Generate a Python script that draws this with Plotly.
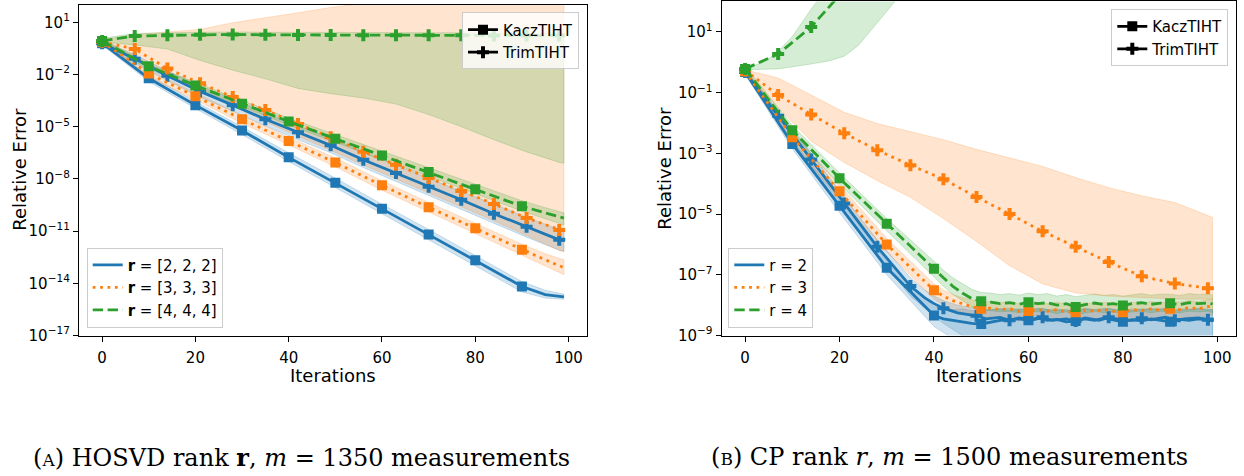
import numpy as np
import plotly.graph_objects as go

W, H = 1244, 476

# ---------------- data (log10 of relative error) ----------------
# Panel A: HOSVD rank r, m = 1350 measurements
hosvd_kacz_iter = [0, 10, 20, 30, 40, 50, 60, 70, 80, 90, 95, 99]
hosvd_kacz = {
    "r2": [-0.2, -2.22, -3.76, -5.22, -6.76, -8.22, -9.72, -11.2, -12.68, -14.18, -14.65, -14.78],
    "r3": [-0.12, -1.94, -3.25, -4.57, -5.82, -7.06, -8.37, -9.63, -10.84, -12.07, -12.65, -13.1],
    "r4": [-0.07, -1.53, -2.63, -3.68, -4.7, -5.69, -6.65, -7.6, -8.6, -9.57, -9.95, -10.25],
}
hosvd_kacz_hi = {
    "r2": [-0.05, -2.05, -3.55, -5.0, -6.5, -7.95, -9.45, -10.9, -12.4, -13.9, -14.4, -14.62],
    "r3": [0.0, -1.75, -3.05, -4.35, -5.6, -6.8, -8.1, -9.35, -10.55, -11.75, -12.3, -12.65],
    "r4": [0.05, -1.4, -2.45, -3.5, -4.5, -5.45, -6.4, -7.35, -8.3, -9.25, -9.65, -9.95],
}
hosvd_kacz_lo = {
    "r2": [-0.3, -2.4, -3.95, -5.45, -7.0, -8.5, -10.0, -11.5, -13.0, -14.5, -14.85, -14.92],
    "r3": [-0.25, -2.15, -3.45, -4.8, -6.05, -7.3, -8.65, -9.9, -11.15, -12.4, -13.0, -13.5],
    "r4": [-0.2, -1.7, -2.8, -3.85, -4.9, -5.9, -6.9, -7.85, -8.85, -9.85, -10.3, -10.65],
}
hosvd_trim_iter = [0, 7, 14, 21, 28, 35, 42, 49, 56, 63, 70, 77, 84, 91, 98, 99]
hosvd_trim = {
    "r2": [-0.2, -1.1, -2.07, -2.97, -3.76, -4.57, -5.32, -6.07, -6.9, -7.66, -8.45, -9.2, -10.0, -10.75, -11.5, -11.55],
    "r3": [-0.12, -0.54, -1.66, -2.5, -3.29, -4.04, -4.85, -5.6, -6.44, -7.19, -7.94, -8.69, -9.44, -10.25, -10.94, -11.0],
    "r4": [-0.07, 0.21, 0.25, 0.29, 0.3, 0.28, 0.27, 0.27, 0.26, 0.26, 0.25, 0.25, 0.24, 0.24, 0.24, 0.24],
}
hosvd_trim_hi = {
    "r2": [-0.05, -0.85, -1.8, -2.65, -3.4, -4.2, -4.95, -5.65, -6.45, -7.2, -7.95, -8.7, -9.45, -10.2, -10.9, -10.95],
    "r3": [0.0, 0.3, 0.45, 0.59, 0.98, 1.25, 1.55, 1.85, 2.1, 2.6, 2.6, 2.6, 2.6, 2.6, 2.6, 2.6],
    "r4": [0.08, 0.36, 0.4, 0.44, 0.45, 0.43, 0.42, 0.42, 0.41, 0.41, 0.4, 0.4, 0.39, 0.39, 0.39, 0.39],
}
hosvd_trim_lo = {
    "r2": [-0.3, -1.35, -2.35, -3.3, -4.1, -4.95, -5.75, -6.5, -7.35, -8.15, -8.95, -9.75, -10.55, -11.35, -12.1, -12.15],
    "r3": [-0.3, -1.0, -2.0, -2.9, -3.8, -4.7, -5.55, -6.35, -7.2, -8.0, -8.8, -9.6, -10.4, -11.25, -12.1, -12.2],
    "r4": [-0.15, -0.3, -0.54, -1.19, -1.75, -2.25, -2.8, -3.1, -3.35, -3.7, -4.3, -5.0, -5.75, -6.45, -7.05, -7.1],
}

# Panel B: CP rank r, m = 1500 measurements
cp_kacz_iter = [0, 10, 20, 30, 40, 42, 44, 46, 48, 50, 52, 54, 56, 58, 60, 62, 64, 66, 68, 70,
                72, 74, 76, 78, 80, 82, 84, 86, 88, 90, 92, 94, 96, 98, 99]
cp_kacz = {
    "r2": [-0.32, -2.69, -4.73, -6.77, -8.34, -8.45, -8.5, -8.55, -8.6, -8.62, -8.55, -8.5, -8.48, -8.45, -8.5,
           -8.42, -8.5, -8.47, -8.55, -8.52, -8.45, -8.5, -8.43, -8.5, -8.55, -8.48, -8.52, -8.45, -8.5, -8.55,
           -8.47, -8.5, -8.45, -8.5, -8.52],
    "r3": [-0.3, -2.47, -4.25, -6.0, -7.51, -7.7, -7.85, -7.95, -8.05, -8.12, -8.1, -8.15, -8.12, -8.2, -8.19,
           -8.15, -8.2, -8.15, -8.22, -8.23, -8.17, -8.2, -8.14, -8.2, -8.23, -8.15, -8.18, -8.12, -8.17, -8.12,
           -8.15, -8.08, -8.12, -8.05, -8.03],
    "r4": [-0.22, -2.24, -3.82, -5.32, -6.8, -7.1, -7.38, -7.6, -7.78, -7.87, -7.9, -7.95, -7.92, -7.97, -7.9,
           -7.95, -7.92, -8.0, -7.95, -8.06, -7.98, -7.93, -7.98, -7.95, -8.01, -7.95, -7.92, -7.97, -7.93, -7.94,
           -7.98, -7.92, -7.95, -7.93, -7.96],
}
cp_kacz_hi = {
    "r2": [-0.25, -2.55, -4.55, -6.55, -8.05, -8.12, -8.15, -8.12, -8.18, -8.2, -8.15, -8.12, -8.1, -8.15, -8.12,
           -8.1, -8.15, -8.12, -8.18, -8.15, -8.1, -8.14, -8.1, -8.15, -8.18, -8.12, -8.15, -8.1, -8.14, -8.18,
           -8.12, -8.15, -8.1, -8.14, -8.15],
    "r3": [-0.2, -2.3, -4.05, -5.8, -7.3, -7.5, -7.65, -7.75, -7.82, -7.9, -7.88, -7.92, -7.9, -7.95, -7.94,
           -7.9, -7.95, -7.9, -7.97, -7.98, -7.92, -7.95, -7.9, -7.95, -7.98, -7.9, -7.93, -7.88, -7.92, -7.88,
           -7.9, -7.85, -7.88, -7.82, -7.8],
    "r4": [-0.12, -2.08, -3.65, -5.15, -6.55, -6.85, -7.1, -7.3, -7.48, -7.58, -7.6, -7.65, -7.62, -7.67, -7.6,
           -7.65, -7.62, -7.7, -7.65, -7.72, -7.68, -7.63, -7.68, -7.65, -7.7, -7.65, -7.62, -7.67, -7.63, -7.64,
           -7.68, -7.62, -7.65, -7.63, -7.66],
}
cp_kacz_lo = {
    "r2": [-0.4, -2.85, -4.95, -7.0, -8.7, -8.9, -9.1, -9.25, -9.3, -9.3, -9.3, -9.3, -9.3, -9.3, -9.3,
           -9.3, -9.3, -9.3, -9.3, -9.3, -9.3, -9.3, -9.3, -9.3, -9.3, -9.3, -9.3, -9.3, -9.3, -9.3,
           -9.3, -9.3, -9.3, -9.3, -9.3],
    "r3": [-0.4, -2.7, -4.5, -6.25, -7.8, -8.0, -8.15, -8.25, -8.35, -8.42, -8.4, -8.45, -8.42, -8.5, -8.48,
           -8.45, -8.5, -8.45, -8.52, -8.52, -8.47, -8.5, -8.45, -8.5, -8.52, -8.45, -8.48, -8.42, -8.47, -8.42,
           -8.45, -8.38, -8.42, -8.35, -8.33],
    "r4": [-0.32, -2.42, -4.02, -5.55, -7.08, -7.38, -7.65, -7.85, -8.05, -8.15, -8.18, -8.22, -8.2, -8.25, -8.18,
           -8.22, -8.2, -8.28, -8.22, -8.32, -8.25, -8.2, -8.25, -8.22, -8.28, -8.22, -8.2, -8.25, -8.2, -8.22,
           -8.25, -8.2, -8.22, -8.2, -8.24],
}
cp_trim_iter_r2 = [0, 7, 14, 21, 28, 35, 38, 40, 42, 45, 47, 49, 51, 54, 56, 58, 61, 63, 65, 68, 70,
                   72, 75, 77, 79, 82, 84, 86, 89, 91, 93, 96, 98, 99]
cp_trim_r2 = [-0.32, -1.76, -3.2, -4.65, -6.08, -7.37, -7.75, -7.95, -8.1, -8.25, -8.3, -8.35, -8.45, -8.4,
              -8.5, -8.42, -8.48, -8.4, -8.5, -8.45, -8.52, -8.42, -8.5, -8.4, -8.47, -8.5, -8.43, -8.48, -8.4,
              -8.5, -8.45, -8.42, -8.48, -8.45]
cp_trim_r2_hi = [-0.25, -1.6, -3.0, -4.45, -5.85, -7.1, -7.5, -7.7, -7.85, -8.0, -8.05, -8.1, -8.15, -8.12,
                 -8.18, -8.12, -8.15, -8.1, -8.18, -8.14, -8.2, -8.12, -8.17, -8.1, -8.15, -8.18, -8.12, -8.15,
                 -8.1, -8.18, -8.14, -8.12, -8.16, -8.14]
cp_trim_r2_lo = [-0.4, -1.95, -3.45, -4.9, -6.35, -7.7, -8.1, -8.35, -8.6, -8.9, -9.1, -9.2, -9.3, -9.3,
                 -9.3, -9.3, -9.3, -9.3, -9.3, -9.3, -9.3, -9.3, -9.3, -9.3, -9.3, -9.3, -9.3, -9.3,
                 -9.3, -9.3, -9.3, -9.3, -9.3, -9.3]
cp_trim_iter_r3 = [0, 7, 14, 21, 28, 35, 42, 49, 56, 63, 70, 77, 84, 91, 98, 99]
cp_trim_r3 = [-0.27, -1.08, -1.72, -2.34, -2.9, -3.39, -3.85, -4.44, -5.0, -5.57, -6.08, -6.58, -7.05, -7.29, -7.44, -7.45]
cp_trim_r3_hi = [-0.25, -0.52, -1.08, -1.65, -2.02, -2.28, -2.55, -2.87, -3.14, -3.43, -3.8, -4.13, -4.4, -4.62, -5.05, -5.11]
cp_trim_r3_lo = [-0.32, -1.5, -2.6, -3.3, -3.9, -4.45, -5.15, -5.9, -6.7, -7.3, -7.6, -7.7, -7.75, -7.8, -7.8, -7.8]
cp_trim_iter_r4 = [0, 7, 14, 21, 28]
cp_trim_r4 = [-0.22, 0.27, 1.16, 2.4, 3.6]
cp_trim_band_iter_r4 = [0, 4, 7, 10, 14, 18, 21, 24, 28, 32, 36]
cp_trim_r4_hi = [-0.2, 0.0, 0.35, 0.85, 1.75, 2.6, 3.2, 3.8, 4.5, 5.2, 6.0]
cp_trim_r4_lo = [-0.25, -0.23, -0.22, -0.15, -0.06, 0.05, 0.2, 0.55, 1.3, 2.05, 2.8]

rank_keys = ["r2", "r3", "r4"]
colors = {"r2": "31,119,180", "r3": "255,127,14", "r4": "44,160,44"}
dashes = {"r2": "solid", "r3": "2.8px,4.6px", "r4": "10.4px,4.5px"}
hosvd_labels = ["<b>r</b> = [2, 2, 2]", "<b>r</b> = [3, 3, 3]", "<b>r</b> = [4, 4, 4]"]
cp_labels = ["r = 2", "r = 3", "r = 4"]
kacz_marks = [0, 10, 20, 30, 40, 50, 60, 70, 80, 90]
trim_marks = [0, 7, 14, 21, 28, 35, 42, 49, 56, 63, 70, 77, 84, 91, 98]
x_ticks = [0, 20, 40, 60, 80, 100]
hosvd_ytick_exp = [1, -2, -5, -8, -11, -14, -17]
cp_ytick_exp = [1, -1, -3, -5, -7, -9]

# ---------------- figure ----------------
fig = go.Figure()
LW = 2.8


def rgba(c, a):
    return f"rgba({c},{a})"


def band(x, lo, hi, c, xa, ya):
    xs = list(x) + list(x)[::-1]
    ys = list(np.power(10.0, hi)) + list(np.power(10.0, lo))[::-1]
    fig.add_trace(go.Scatter(x=xs, y=ys, mode="lines", fill="toself", fillcolor=rgba(c, 0.2),
                             line=dict(color=rgba(c, 0.25), width=0.8), hoverinfo="skip",
                             showlegend=False, xaxis=xa, yaxis=ya))


def curve(x, v, c, dash, symbol, size, marks, xa, ya):
    y = np.power(10.0, v)
    fig.add_trace(go.Scatter(x=x, y=y, mode="lines", line=dict(color=rgba(c, 1), width=LW, dash=dash),
                             showlegend=False, xaxis=xa, yaxis=ya))
    mx = [xi for xi in x if xi in marks]
    my = [yi for xi, yi in zip(x, y) if xi in marks]
    fig.add_trace(go.Scatter(x=mx, y=my, mode="markers",
                             marker=dict(symbol=symbol, size=size, color=rgba(c, 1), line=dict(width=0)),
                             showlegend=False, xaxis=xa, yaxis=ya))


# bands
for k in rank_keys:
    band(hosvd_kacz_iter, hosvd_kacz_lo[k], hosvd_kacz_hi[k], colors[k], "x", "y")
    band(hosvd_trim_iter, hosvd_trim_lo[k], hosvd_trim_hi[k], colors[k], "x", "y")
for k in rank_keys:
    band(cp_kacz_iter, cp_kacz_lo[k], cp_kacz_hi[k], colors[k], "x2", "y2")
band(cp_trim_iter_r2, cp_trim_r2_lo, cp_trim_r2_hi, colors["r2"], "x2", "y2")
band(cp_trim_iter_r3, cp_trim_r3_lo, cp_trim_r3_hi, colors["r3"], "x2", "y2")
band(cp_trim_band_iter_r4, cp_trim_r4_lo, cp_trim_r4_hi, colors["r4"], "x2", "y2")

# lines
SQ, PL = 10, 10
cp_trim = {"r2": (cp_trim_iter_r2, cp_trim_r2), "r3": (cp_trim_iter_r3, cp_trim_r3),
           "r4": (cp_trim_iter_r4, cp_trim_r4)}
for k in rank_keys:
    curve(hosvd_kacz_iter, hosvd_kacz[k], colors[k], dashes[k], "square", SQ, kacz_marks, "x", "y")
    curve(hosvd_trim_iter, hosvd_trim[k], colors[k], dashes[k], "cross", PL, trim_marks, "x", "y")
for k in rank_keys:
    curve(cp_kacz_iter, cp_kacz[k], colors[k], dashes[k], "square", SQ, kacz_marks, "x2", "y2")
    curve(cp_trim[k][0], cp_trim[k][1], colors[k], dashes[k], "cross", PL, trim_marks, "x2", "y2")

# legend entries
for lg, xa, ya in [("legend", "x", "y"), ("legend3", "x2", "y2")]:
    fig.add_trace(go.Scatter(x=[None], y=[None], mode="lines+markers", name="KaczTIHT", legend=lg,
                             line=dict(color="black", width=LW), marker=dict(symbol="square", size=SQ, color="black"),
                             xaxis=xa, yaxis=ya))
    fig.add_trace(go.Scatter(x=[None], y=[None], mode="lines+markers", name="TrimTIHT", legend=lg,
                             line=dict(color="black", width=LW), marker=dict(symbol="cross", size=PL, color="black"),
                             xaxis=xa, yaxis=ya))
for lg, xa, ya, labels in [("legend2", "x", "y", hosvd_labels), ("legend4", "x2", "y2", cp_labels)]:
    for k, lab in zip(rank_keys, labels):
        fig.add_trace(go.Scatter(x=[None], y=[None], mode="lines", name=lab, legend=lg,
                                 line=dict(color=rgba(colors[k], 1), width=LW, dash=dashes[k]),
                                 xaxis=xa, yaxis=ya))

TICKF = dict(family="DejaVu Sans", size=15, color="black")
LABF = dict(family="DejaVu Sans", size=18, color="black")
axis_common = dict(showline=True, mirror=True, linecolor="black", linewidth=1.3, ticks="outside",
                   ticklen=5, tickwidth=1.2, tickcolor="black", showgrid=False, zeroline=False,
                   tickfont=TICKF)


def sup_label(e):
    s = str(e).replace("-", "\u2212")
    return f"10<sup>{s}</sup>"


legend_common = dict(bgcolor="rgba(255,255,255,0.8)", bordercolor="#cccccc", borderwidth=1,
                     font=dict(family="DejaVu Sans", size=15, color="black"), itemwidth=30,
                     tracegroupgap=0)

fig.update_layout(
    width=W, height=H, autosize=False, margin=dict(l=0, r=0, t=0, b=0),
    paper_bgcolor="white", plot_bgcolor="white",
    xaxis=dict(domain=[79 / W, 587 / W], range=[-4.95, 103.95], tickvals=x_ticks,
               anchor="y", ticklabelstandoff=3, **axis_common),
    yaxis=dict(domain=[1 - 342 / H, 1 - 5 / H], type="log", range=[-17, 2],
               tickvals=[10.0 ** e for e in hosvd_ytick_exp],
               ticktext=[sup_label(e) for e in hosvd_ytick_exp], anchor="x", **axis_common),
    xaxis2=dict(domain=[721.7 / W, 1236 / W], range=[-4.95, 103.95], tickvals=x_ticks,
                anchor="y2", ticklabelstandoff=3, **axis_common),
    yaxis2=dict(domain=[1 - 342 / H, 1 - 1.5 / H], type="log", range=[-9, 2],
                tickvals=[10.0 ** e for e in cp_ytick_exp],
                ticktext=[sup_label(e) for e in cp_ytick_exp], anchor="x2", **axis_common),
    legend=dict(x=579 / W, y=1 - 12.7 / H, xanchor="right", yanchor="top", **legend_common),
    legend2=dict(x=86.7 / W, y=1 - 334 / H, xanchor="left", yanchor="bottom", **legend_common),
    legend3=dict(x=1228.3 / W, y=1 - 9.3 / H, xanchor="right", yanchor="top", **legend_common),
    legend4=dict(x=728.3 / W, y=1 - 334 / H, xanchor="left", yanchor="bottom", **legend_common),
)

CAPF = dict(family="DejaVu Serif", size=24, color="black")
annots = [
    dict(text="Iterations", x=333 / W, y=1 - 383 / H, font=LABF),
    dict(text="Iterations", x=979 / W, y=1 - 383 / H, font=LABF),
    dict(text="Relative Error", x=20 / W, y=1 - 173 / H, font=LABF, textangle=-90),
    dict(text="Relative Error", x=665 / W, y=1 - 172 / H, font=LABF, textangle=-90),
    dict(text="(<span style='font-size:17px'>A</span>) HOSVD rank <b>r</b>, <i>m</i> = 1350 measurements",
         x=301 / W, y=1 - 466 / H, font=CAPF),
    dict(text="(<span style='font-size:17px'>B</span>) CP rank <i>r</i>, <i>m</i> = 1500 measurements",
         x=949 / W, y=1 - 466 / H, font=CAPF),
]
for a in annots:
    fig.add_annotation(xref="paper", yref="paper", xanchor="center", yanchor="middle",
                       showarrow=False, **a)

fig.write_html("out.html")
